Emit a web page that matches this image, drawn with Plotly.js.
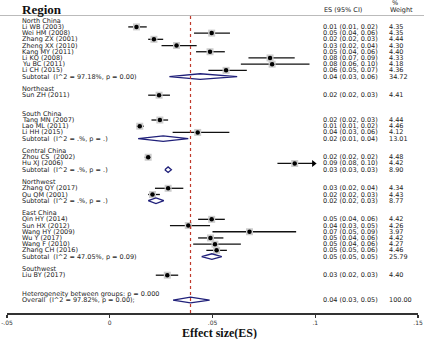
<!DOCTYPE html>
<html><head><meta charset="utf-8">
<script src="https://cdn.plot.ly/plotly-3.0.1.min.js"></script>
<style>html,body{margin:0;padding:0;background:#fff}#chart{width:424px;height:339px}</style>
</head><body><div id="chart"></div>
<script>
// ---- data ----
const regionName = ['North China','Northeast','South China','Central China','Northwest','East China','Southwest'];
const studyName = ['Li WB (2003)','Wei HM (2008)','Zhang ZX (2001)','Zheng XX (2010)','Kang MY (2011)','Li KQ (2008)','Yu BC (2011)','Li CH (2015)',
  'Sun ZH (2011)',
  'Tang MN (2007)','Lao ML (2011)','Li HH (2015)',
  'Zhou CS  (2002)','Hu XJ (2006)',
  'Zhang QY (2017)','Qu QM (2001)',
  'Qin HY (2014)','Sun HX (2012)','Wang HY (2009)','Wu Y (2017)','Wang F (2010)','Zhang CH (2016)',
  'Liu BY (2017)'];
const studyRegion = [0,0,0,0,0,0,0,0, 1, 2,2,2, 3,3, 4,4, 5,5,5,5,5,5, 6];
const studyES = [0.013,0.0496,0.0215,0.0325,0.0488,0.078,0.079,0.0566, 0.024, 0.0244,0.0146,0.0428, 0.0187,0.090, 0.0284,0.0208, 0.0496,0.0382,0.068,0.049,0.0512,0.052, 0.028];
const studyLo = [0.009,0.041,0.0187,0.0252,0.042,0.0675,0.0638,0.048, 0.0187, 0.0203,0.013,0.0306, 0.017,0.0816, 0.022,0.0187, 0.043,0.0293,0.050,0.043,0.0406,0.047, 0.0224];
const studyHi = [0.018,0.0585,0.026,0.0423,0.056,0.090,0.0972,0.0667, 0.0293, 0.0284,0.0166,0.0582, 0.020,0.0992, 0.0358,0.0244, 0.056,0.0488,0.0907,0.0553,0.0638,0.057, 0.0333];
const studyCI = ['0.01 (0.01, 0.02)','0.05 (0.04, 0.06)','0.02 (0.02, 0.03)','0.03 (0.02, 0.04)','0.05 (0.04, 0.06)','0.08 (0.07, 0.09)','0.08 (0.06, 0.10)','0.06 (0.05, 0.07)',
  '0.02 (0.02, 0.03)',
  '0.02 (0.02, 0.03)','0.01 (0.01, 0.02)','0.04 (0.03, 0.06)',
  '0.02 (0.02, 0.02)','0.09 (0.08, 0.10)',
  '0.03 (0.02, 0.04)','0.02 (0.02, 0.03)',
  '0.05 (0.04, 0.06)','0.04 (0.03, 0.05)','0.07 (0.05, 0.09)','0.05 (0.04, 0.06)','0.05 (0.04, 0.06)','0.05 (0.05, 0.06)',
  '0.03 (0.02, 0.03)'];
const studyWeight = ['4.35','4.35','4.44','4.30','4.40','4.33','4.18','4.36', '4.41', '4.44','4.46','4.12', '4.48','4.42', '4.34','4.43', '4.42','4.26','3.97','4.42','4.27','4.46', '4.40'];
const arrowStudies = ['Hu XJ (2006)'];

const subES = [0.044, null, 0.026, 0.0284, 0.0225, 0.0497, null];
const subLo = [0.029, null, 0.0138, 0.0268, 0.0187, 0.0447, null];
const subHi = [0.062, null, 0.0382, 0.030, 0.0263, 0.0545, null];
const subCI = ['0.04 (0.03, 0.06)', null, '0.02 (0.01, 0.04)', '0.03 (0.03, 0.03)', '0.02 (0.02, 0.03)', '0.05 (0.05, 0.05)', null];
const subWeight = ['34.72', null, '13.01', '8.90', '8.77', '25.79', null];
const subHet = ['(I^2 = 97.18%, p = 0.00)', null, '(I^2 = .%, p = .)', '(I^2 = .%, p = .)', '(I^2 = .%, p = .)', '(I^2 = 47.05%, p = 0.09)', null];

const overallES = 0.0393, overallLo = 0.0308, overallHi = 0.0486;
const overallCI = '0.04 (0.03, 0.05)', overallWeight = '100.00';
const overallLabel = 'Overall  (I^2 = 97.82%, p = 0.00);';
const hetLabel = 'Heterogeneity between groups: p = 0.000';

const xTicks = [-0.05, 0, 0.05, 0.1, 0.15];
const xTickText = ['-.05', '0', '.05', '.1', '.15'];

// ---- build rows ----
const txtFont = {family: 'DejaVu Sans', size: 6.5, color: '#222'};
const ann = [];
const colLabel = 0.034, colCI = 0.766, colW = 0.927;
function rowText(r, label, ci, w) {
  if (label) ann.push({xref:'paper', x: colLabel, yref:'y', y: r, text: label, showarrow:false, xanchor:'left', yanchor:'middle', font: txtFont, borderpad: 0});
  if (ci) ann.push({xref:'paper', x: colCI, yref:'y', y: r, text: ci, showarrow:false, xanchor:'left', yanchor:'middle', font: txtFont, borderpad: 0});
  if (w) ann.push({xref:'paper', x: colW, yref:'y', y: r, text: w, showarrow:false, xanchor:'left', yanchor:'middle', font: txtFont, borderpad: 0});
}
const ciX = [], ciY = [], ptX = [], ptY = [], arX = [], arY = [];
const dX = [], dY = [];
const dh = 0.45;
function diamond(r, es, lo, hi) {
  dX.push(lo, es, hi, es, lo, null);
  dY.push(r, r - dh, r, r + dh, r, null);
}
let row = 0;
regionName.forEach((g, gi) => {
  rowText(row, g); row++;
  studyName.forEach((s, si) => {
    if (studyRegion[si] !== gi) return;
    rowText(row, s, studyCI[si], studyWeight[si]);
    ciX.push(studyLo[si], studyHi[si], null); ciY.push(row, row, null);
    ptX.push(studyES[si]); ptY.push(row);
    if (arrowStudies.includes(s)) { arX.push(studyHi[si]); arY.push(row); }
    row++;
  });
  if (subES[gi] !== null) {
    rowText(row, 'Subtotal  ' + subHet[gi], subCI[gi], subWeight[gi]);
    diamond(row, subES[gi], subLo[gi], subHi[gi]);
  }
  row += 2;
});
rowText(row, hetLabel); row++;
rowText(row, overallLabel, overallCI, overallWeight);
diamond(row, overallES, overallLo, overallHi);

// headers (above plot area)
const py = p => 1 + (16 - p) / 297;
ann.push({xref:'paper', x: 0.032, yref:'paper', y: py(9.5), text: '<b>Region</b>', showarrow:false, xanchor:'left', yanchor:'middle', font:{family:'Liberation Serif', size:13, color:'#111'}});
ann.push({xref:'paper', x: colCI, yref:'paper', y: py(9.5), text: 'ES (95% CI)', showarrow:false, xanchor:'left', yanchor:'middle', font: txtFont});
ann.push({xref:'paper', x: 0.944, yref:'paper', y: py(3), text: '%', showarrow:false, xanchor:'center', yanchor:'middle', font: txtFont});
ann.push({xref:'paper', x: colW, yref:'paper', y: py(9.5), text: 'Weight', showarrow:false, xanchor:'left', yanchor:'middle', font: txtFont});
ann.push({xref:'paper', x: 0.5175, yref:'paper', y: 0, yshift: -12, text: '<b>Effect size(ES)</b>', showarrow:false, xanchor:'center', yanchor:'top', font:{family:'Liberation Serif', size:12, color:'#111'}, borderpad: 0});

const traces = [
  {type:'scatter', mode:'lines', x: ciX, y: ciY, line:{color:'#111', width:1.3}, hoverinfo:'skip'},
  {type:'scatter', mode:'markers', x: ptX, y: ptY, marker:{symbol:'square', size:7, color:'#cdcdcd'}, hoverinfo:'skip'},
  {type:'scatter', mode:'markers', x: ptX, y: ptY, marker:{symbol:'circle', size:4.5, color:'#000'}},
  {type:'scatter', mode:'markers', x: arX, y: arY, marker:{symbol:'triangle-right', size:6, color:'#000'}},
  {type:'scatter', mode:'lines', x: dX, y: dY, fill:'toself', fillcolor:'#fff', line:{color:'#20207a', width:1.3}, hoverinfo:'skip'}
];

const layout = {
  width: 424, height: 339,
  margin: {l: 7, r: 6, t: 16, b: 26},
  paper_bgcolor: '#fff', plot_bgcolor: '#fff',
  showlegend: false,
  xaxis: {range: [-0.05, 0.15], tickvals: xTicks, ticktext: xTickText, ticks: 'outside', ticklen: 3, tickwidth: 1.2, tickcolor: '#333',
          showline: true, linecolor: '#333', linewidth: 1.5, showgrid: false, zeroline: false,
          tickfont: {family: 'DejaVu Sans', size: 6, color: '#333'}},
  yaxis: {range: [47.09, -0.757], visible: false, showgrid: false, zeroline: false},
  shapes: [
    {type:'line', xref:'paper', yref:'paper', x0: -0.02, x1: 1.02, y0: py(15.5), y1: py(15.5), line:{color:'#bbb', width:1}},
    {type:'line', xref:'x', yref:'paper', x0: overallES, x1: overallES, y0: 0, y1: 1, line:{color:'#c0392b', width:1.2, dash:'dot'}, layer:'above'}
  ],
  annotations: ann
};
Plotly.newPlot('chart', traces, layout, {displayModeBar: false, staticPlot: true});
</script></body></html>
